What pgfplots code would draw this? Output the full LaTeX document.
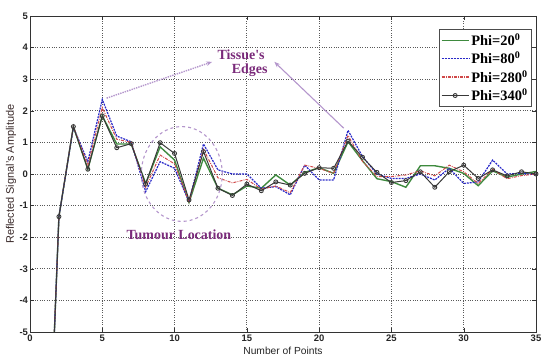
\documentclass[border=0pt]{standalone}
\usepackage{pgfplots}
\pgfplotsset{compat=1.18}
\usepackage{pgfplotstable}
\usepackage{fontspec}
\setmainfont{Liberation Sans}
\newfontfamily\serifb{Liberation Serif}
\usetikzlibrary{arrows.meta}
\definecolor{cgreen}{HTML}{3E8A3E}
\definecolor{cblue}{HTML}{2828C8}
\definecolor{cred}{HTML}{D04848}
\definecolor{cblack}{HTML}{383838}
\definecolor{annot}{HTML}{7A2A7A}
\definecolor{annotl}{HTML}{B496CC}
\definecolor{ylab}{HTML}{3A2A2A}

\pgfplotstableread{
x g b r k
1 -13 -13 -13 -13
2 -1.35 -1.35 -1.35 -1.35
3 1.50 1.48 1.50 1.50
4 0.15 0.39 0.28 0.15
5 1.84 2.36 2.10 1.84
6 0.95 1.20 1.10 0.83
7 0.95 1.02 1.00 0.96
8 -0.30 -0.56 -0.42 -0.32
9 0.86 0.39 0.60 0.99
10 0.44 0.18 0.32 0.65
11 -0.90 -0.88 -0.88 -0.82
12 0.50 0.95 0.78 0.71
13 -0.45 0.13 -0.12 -0.45
14 -0.66 0.00 -0.28 -0.68
15 -0.38 0.00 -0.17 -0.32
16 -0.45 -0.45 -0.48 -0.53
17 -0.03 -0.40 -0.38 -0.25
18 -0.35 -0.66 -0.59 -0.35
19 0.05 0.28 0.28 0.02
20 0.20 -0.19 0.18 0.20
21 0.02 -0.19 0.02 0.18
22 1.02 1.38 1.22 1.04
23 0.42 0.55 0.40 0.53
24 -0.15 0.00 -0.08 0.05
25 -0.24 -0.14 -0.08 -0.27
26 -0.42 -0.14 -0.03 -0.21
27 0.26 0.00 0.10 0.07
28 0.26 -0.19 -0.06 -0.42
29 0.18 0.18 0.28 0.07
30 0.02 -0.30 0.07 0.28
31 -0.37 -0.25 -0.30 -0.14
32 0.10 0.44 0.15 0.13
33 -0.10 0.00 -0.15 -0.06
34 0.00 0.02 -0.05 0.07
35 0.08 -0.02 0.00 0.00
}\datatable

\begin{document}
\begin{tikzpicture}
\useasboundingbox (-30bp,-28bp) rectangle (512bp,332bp);
\begin{axis}[
  at={(0,0)}, anchor=south west,
  scale only axis, width=506bp, height=316bp,
  xmin=0, xmax=35, ymin=-5, ymax=5,
  xtick={0,5,...,35}, ytick={-5,-4,...,5},
  grid=major,
  major grid style={black!65, dotted, line width=0.8pt},
  axis line style={black!80, line width=0.7pt},
  tick style={black!80},
  /pgf/number format/assume math mode=true,
  tick label style={font=\fontsize{9.5}{10}\selectfont\bfseries, text=black!85},
  xticklabel style={yshift=1bp},
  yticklabel style={xshift=1.5bp},
  xlabel={Number of Points},
  ylabel={Reflected Signal's Amplitude},
  every axis x label/.style={at={(axis description cs:0.5,0)}, yshift=-19bp, anchor=center, font=\fontsize{10.3}{11}\selectfont, text=black!85},
  every axis y label/.style={at={(axis description cs:0,0.5)}, xshift=-19bp, rotate=90, anchor=center, font=\fontsize{11}{12}\selectfont, text=ylab},
  legend style={at={(axis description cs:0.992,0.958)}, anchor=north east,
    font=\serifb\bfseries\fontsize{14.5}{15}\selectfont, draw=black!70, line width=0.7pt,
    inner sep=2pt, row sep=1pt, fill=white},
  legend cell align=left,
  legend image post style={line width=1.3pt},
  legend image code/.code={\draw[#1] (0cm,0cm) -- (0.95cm,0cm); \draw[#1, only marks] plot coordinates {(0.475cm,0cm)};},
]
\addplot[cgreen, line width=1.4pt, no marks] table[x=x,y=g]{\datatable};
\addlegendentry{Phi=20\textsuperscript{0}}
\addplot[cblue, line width=1.2pt, dash pattern=on 2pt off 1pt, no marks] table[x=x,y=b]{\datatable};
\addlegendentry{Phi=80\textsuperscript{0}}
\addplot[cred, line width=1pt, dash pattern=on 3pt off 1.2pt on 0.8pt off 1.2pt, no marks] table[x=x,y=r]{\datatable};
\addlegendentry{Phi=280\textsuperscript{0}}
\addplot[cblack, line width=1pt, mark=o, mark size=2pt, mark options={solid, line width=0.9pt, fill=white}] table[x=x,y=k]{\datatable};
\addlegendentry{Phi=340\textsuperscript{0}}

\draw[annotl, line width=1.1pt, dashed] (axis cs:10.5,0) ellipse [x radius=2.8, y radius=1.5];
\draw[annotl, line width=1.4pt, densely dotted, -{Stealth[length=6pt]}] (axis cs:5.3,2.4) -- (axis cs:12.6,3.55);
\draw[annotl, line width=1.1pt, -{Stealth[length=6pt]}] (axis cs:21.7,1.45) -- (axis cs:16.9,3.55);
\node[annot, font=\serifb\bfseries\fontsize{14}{15}\selectfont] at (axis cs:14.6,3.76) {Tissue's};
\node[annot, font=\serifb\bfseries\fontsize{14}{15}\selectfont] at (axis cs:15.2,3.29) {Edges};
\node[annot, font=\serifb\bfseries\fontsize{14}{15}\selectfont] at (axis cs:10.3,-1.93) {Tumour Location};
\end{axis}
\end{tikzpicture}
\end{document}
